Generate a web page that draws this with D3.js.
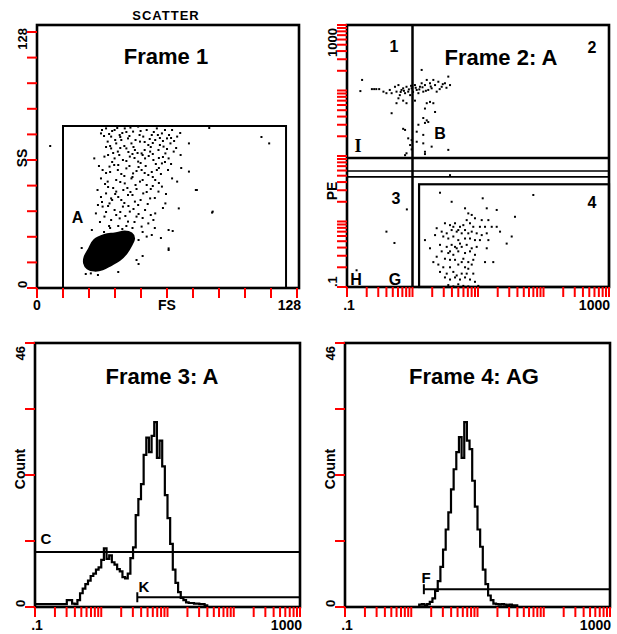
<!DOCTYPE html>
<html><head><meta charset="utf-8">
<script src="https://cdn.jsdelivr.net/npm/d3@7/dist/d3.min.js"></script>
<style>
body{margin:0;background:#fff}
svg text{font-family:"Liberation Sans",Arial,Helvetica,sans-serif;font-weight:bold;fill:#000}
</style>
</head><body>
<svg id="c" width="617" height="634"></svg>
<script>
// ---------------- DATA ----------------
const scatterTicks = [0, 12.8, 25.6, 38.4, 51.2, 64, 76.8, 89.6, 102.4, 115.2, 128];
const frame1Gate = [12.8, 122.6, 81];
const frame1Points = [
[31.5,77.3],[34.0,79.8],[36.5,75.7],[38.2,79.0],[40.7,76.5],[43.2,79.8],[44.8,74.8],[47.3,78.2],[49.8,80.7],[52.3,75.7],
[54.0,79.0],[56.5,76.5],[59.0,79.8],[61.5,77.3],[64.0,74.8],[66.5,79.0],[69.0,75.7],[74.8,72.3],[34.8,73.2],[39.0,72.3],
[41.5,74.0],[46.5,72.3],[50.7,73.2],[54.8,71.5],[58.2,74.0],[62.3,70.7],[65.7,72.3],[36.5,69.8],[39.8,68.2],[44.0,69.8],
[48.2,69.0],[51.5,67.3],[55.7,68.2],[59.8,69.0],[63.2,67.3],[67.3,68.2],[70.7,66.5],[28.2,64.8],[33.2,65.7],[38.2,64.8],
[42.3,64.0],[45.7,65.7],[49.8,63.2],[53.2,64.8],[57.3,64.0],[61.5,62.3],[64.8,64.8],[74.8,58.2],[32.3,59.0],[35.7,60.7],
[39.8,59.0],[44.0,59.8],[47.3,57.3],[51.5,59.0],[54.8,56.5],[59.0,59.0],[69.0,53.2],[31.5,54.8],[34.8,53.2],[39.0,54.0],
[43.2,52.3],[46.5,54.8],[50.7,53.2],[54.0,51.5],[58.2,54.0],[61.5,50.7],[66.5,54.8],[78.2,49.0],[29.8,49.0],[34.0,47.3],
[36.5,44.8],[39.0,48.2],[41.5,44.0],[44.8,46.5],[48.2,43.2],[52.3,47.3],[55.7,44.8],[59.8,48.2],[32.3,40.7],[35.7,42.3],
[38.2,39.0],[42.3,40.7],[45.7,38.2],[49.8,41.5],[53.2,39.0],[58.2,37.3],[63.2,42.3],[69.8,39.8],[86.5,38.2],[29.0,37.3],
[33.2,35.7],[36.5,34.0],[40.7,34.8],[44.8,33.2],[49.0,35.7],[54.8,32.3],[57.3,34.0],[64.8,29.0],[51.5,30.7],[54.0,25.7],
[56.5,26.5],[64.8,19.8],[49.0,14.0],[26.5,7.3],[110.5,75.5],[114.3,72.3],[86.2,37.7],[78.7,49],[64.8,19],[66.8,28.5],
[6.5,71],[84.8,80],[24,7],[30,6.5],[40,8],[50,12],[52,16],[47,30],[27,29],[22,20],[44,31],[36,30],
[33,76],[37,78.5],[42,77.5],[45.5,76],[48.5,74],[51,78.5],[55.5,74.5],[57.5,78],[60.5,75],[63,79],[65,76.5],[67.5,73.5],
[70.5,77.5],[36,71],[38.5,74],[43,71],[47.5,70.5],[49.5,67.5],[53,69],[56,70.5],[60.5,71.5],[64,69.5],[68.5,70],[35,66.5],
[37,63],[40.5,66.5],[44,63.5],[47,67],[51,62.5],[55,66],[58.5,62],[62,65.5],[66,62],[30.5,61],[34,57.5],[38,61.5],
[41.5,57],[45.5,61],[49,58.5],[53.5,61],[56.5,58],[61,57],[64.5,59],[71,60],[33.5,52],[37.5,50],[41,53],[44.5,50],
[48.5,51.5],[52,54],[56,49.5],[60,52.5],[63.5,47],[31.5,45.5],[35,41],[40,45.5],[43,42.5],[47,46.5],[51,44],[54.5,42],
[58,45],[62,40],[30,41.5],[34,38],[39,36.5],[43.5,36],[47.5,39.5],[52,35],[56,36.5],[31,33],[35.5,31],[42,29.5],
[46,27],[50,24],[38,25],[33,28],[58,30],[61,25],
[32,79],[35.5,77],[39.5,80],[41,75.5],[44,78],[46,80.2],[50.5,76.5],[53,73],[57,72.5],[59.5,76.5],[62,73.5],[66,75],
[34,70.5],[37.5,67.5],[41,70],[45,68],[48,65],[52,66.5],[57,67],[60,65],[63,63],[36,58],[40,61.5],[43,56],[47,55.5],
[50,60.5],[53,57.5],[57,55.5],[60,60],[35,50.5],[38.5,47],[42.5,49],[46,48],[49,49.5],[54,48],[57,51],[37,44],[41,38],
[45,41],[50,37],[32,43],[40,31],[44,28],[52,28],[48,33]
];
const clusterA = [
[23.2,12.3],[24.8,9.8],[28.2,8.7],[32.3,9.3],[36.5,11.5],[40.7,14.0],[44.0,17.3],[46.5,21.5],
[47.8,24.8],[46.5,27.3],[43.2,28.2],[38.2,27.3],[33.2,26.5],[28.2,24.0],[25.7,19.8],[23.5,15.7]
];
const frame2Points = [
[0.17,145],[0.16,98],[0.24,105],[0.26,105],[0.28,105],[0.31,105],[0.36,96],[0.40,91],[0.45,102],[0.48,91],
[0.54,114],[0.57,96],[0.61,121],[0.64,85],[0.68,102],[0.72,108],[0.77,91],[0.81,114],[0.86,96],[0.92,85],
[0.97,108],[1.09,121],[1.16,102],[1.23,91],[1.30,114],[1.38,129],[1.46,96],[1.55,121],[1.65,145],[1.74,102],
[1.85,129],[1.96,108],[2.08,145],[2.21,121],[2.34,96],[2.48,136],[2.79,114],[3.13,129],[3.52,163],[3.74,121],
[1.38,206],[0.61,76],[0.72,70],[0.48,45],[0.57,64],[0.81,64],[1.09,70],[1.65,64],[1.85,67],[2.08,64],
[1.55,53],[2.21,47],[1.65,35],[1.46,38],[1.55,32],[1.74,33],[1.23,30],[0.72,26],[0.77,25],[1.16,23.5],
[1.46,21],[0.86,18.6],[0.97,17.5],[1.16,16.5],[0.92,14.7],[1.46,15.6],[1.96,13.9],[0.81,11.0],[1.55,11.6],[3.52,12.4],
[0.97,12.6],[0.77,10.3],[1.55,10.7],[3.74,5.1],[0.82,1.53],[0.40,0.70],[0.53,0.47],[0.14,0.18],
[0.66,95],[0.74,99],[0.88,104],[1.02,95],[1.12,110],[1.27,104],[1.42,112],[0.95,118],[1.6,99],[1.9,115],[2.6,105],[2.9,125],[3.3,110],
[2.63,2.75],[3.96,2.00],[11.8,2.26],[69.9,2.54],[6.34,1.59],[13.6,1.59],[19.3,1.50],[7.11,1.33],[8.02,1.26],[8.99,1.12],
[11.4,1.05],[14.4,1.05],[6.72,1.05],[3.13,0.94],[3.74,0.88],[4.46,0.94],[5.31,0.83],[5.97,0.88],[7.55,0.94],[8.47,0.83],
[10.7,0.83],[12.8,0.83],[16.2,0.83],[19.3,0.83],[21.7,0.70],[36.7,1.18],[2.34,0.79],[2.79,0.70],[3.33,0.66],[3.96,0.74],
[4.73,0.70],[5.64,0.66],[6.34,0.74],[7.11,0.66],[8.02,0.70],[9.55,0.66],[11.4,0.62],[13.6,0.66],[2.21,0.62],[2.95,0.59],
[3.52,0.55],[4.20,0.59],[5.00,0.52],[6.34,0.55],[7.55,0.55],[8.99,0.52],[10.7,0.52],[14.4,0.52],[1.55,0.52],[32.7,0.59],
[27.4,0.46],[2.63,0.44],[3.33,0.41],[3.96,0.44],[4.73,0.39],[5.64,0.41],[6.72,0.44],[8.02,0.39],[9.55,0.41],[13.6,0.39],
[1.85,0.39],[2.79,0.35],[3.52,0.33],[4.20,0.31],[5.00,0.35],[6.34,0.33],[7.55,0.35],[8.99,0.31],[2.34,0.29],[3.13,0.27],
[3.74,0.26],[4.46,0.26],[5.97,0.27],[7.11,0.24],[8.47,0.26],[12.8,0.24],[17.1,0.24],[2.08,0.24],[2.48,0.22],[2.95,0.20],
[3.74,0.20],[5.00,0.22],[6.34,0.20],[7.11,0.19],[8.02,0.22],[2.63,0.17],[3.33,0.16],[4.20,0.17],[4.73,0.15],[5.64,0.16],
[6.72,0.16],[8.47,0.16],[3.13,0.14],[3.74,0.13],[4.46,0.14],[5.31,0.13],[6.34,0.14],[7.55,0.13],[8.99,0.12],[3.52,0.107],
[4.20,0.102],[5.00,0.11],[5.97,0.104],[7.11,0.102],[10.1,0.104],[4.20,0.83],[5.00,0.74],[5.31,0.46],[4.46,0.41],[5.64,0.24],[3.74,0.35]
];
const quadVertical = [1.0];
const quadHorizontal = [9.3, 5.9, 4.8];
const region4 = [1.26, 3.7];
const countTicks = [0, 11.5, 23, 34.5, 46];
const histA = [
0.5,0.5,0.5,0.5,0.5,0.5,0.5,0.5,0.5,0.5,
0.5,0.5,1.2,1.2,0.6,0.5,1.2,2.4,3.2,4.0,
4.6,5.4,5.8,6.5,6.9,8.2,10.2,8.4,9.0,7.8,
7.4,6.6,6.2,5.2,5.0,5.8,8.5,10.4,16.0,18.8,
21.4,26.5,29.5,27.0,29.8,32.2,26.0,29.0,24.5,19.5,
15.5,11.0,6.5,4.2,2.6,1.6,1.2,0.8,0.7,0.7,
0.6,0.6,0.5,0.5,0.3,0,0,0,0,0,
0,0,0,0,0,0,0,0,0,0,
0,0,0,0,0,0,0,0,0,0,
0,0,0,0,0,0,0,0,0,0
];
const histAG = [
0,0,0,0,0,0,0,0,0,0,
0,0,0,0,0,0,0,0,0,0,
0,0,0,0,0,0,0,0,0.4,0.5,
0.3,0.5,0.9,1.5,2.8,4.5,7.0,10.0,13.5,16.5,
20.5,24.0,27.0,29.6,26.0,32.2,29.0,27.5,22.0,17.5,
13.5,10.5,6.5,4.0,2.0,1.2,0.6,0.5,0.4,0.5,
0.4,0.3,0.4,0.3,0.3,0,0,0,0,0,
0,0,0,0,0,0,0,0,0,0,
0,0,0,0,0,0,0,0,0,0,
0,0,0,0,0,0,0,0,0,0
];
const markerC = [0.1, 1000, 9.6];
const markerK = [3.5, 1000, 1.7];
const markerF = [1.55, 1000, 3.1];
const titles = ["Frame 1", "Frame 2: A", "Frame 3: A", "Frame 4: AG"];

// ---------------- DRAWING ----------------
const svg = d3.select("#c");
function frameRect(x0, y0, x1, y1) {
  svg.append("rect").attr("x", x0).attr("y", y0).attr("width", x1 - x0).attr("height", y1 - y0)
    .attr("fill", "none").attr("stroke", "#000").attr("stroke-width", 2.6);
}
function label(t, x, y, size, anchor, opts) {
  const e = svg.append("text").attr("x", x).attr("y", y).attr("font-size", size).attr("text-anchor", anchor || "middle").text(t);
  if (opts && opts.rotate) e.attr("transform", `rotate(-90,${x},${y})`);
  if (opts && opts.family) e.style("font-family", opts.family);
  if (opts && opts.spacing) e.attr("letter-spacing", opts.spacing);
  return e;
}
function yLabels(labels, frameLeft, top, bottom, mid) {
  const bx = frameLeft - 10;
  label(labels[0], bx, bottom, 13, "start", { rotate: true });
  label(labels[1], bx, mid, 14, "middle", { rotate: true });
  label(labels[2], bx, top + 3, 13, "end", { rotate: true });
}

const sx1 = d3.scaleLinear().domain([0, 128]).range([37, 297]);
const sy1 = d3.scaleLinear().domain([0, 128]).range([288, 32]);
svg.append("rect")
  .attr("x", sx1(frame1Gate[0])).attr("y", sy1(frame1Gate[2]))
  .attr("width", sx1(frame1Gate[1]) - sx1(frame1Gate[0])).attr("height", sy1(0) - sy1(frame1Gate[2]))
  .attr("fill", "none").attr("stroke", "#000").attr("stroke-width", 2);
svg.append("g").selectAll("rect").data(frame1Points).join("rect")
  .attr("x", d => sx1(d[0]) - 1).attr("y", d => sy1(d[1]) - 1).attr("width", 2).attr("height", 2).attr("fill", "#000");
svg.append("path").datum(clusterA)
  .attr("d", d3.line().x(d => sx1(d[0])).y(d => sy1(d[1])).curve(d3.curveCardinalClosed))
  .attr("fill", "#000").attr("stroke", "#000").attr("stroke-width", 2);
frameRect(37, 25, 299, 288);
label("SCATTER", 166, 20, 13, "middle", { spacing: 1 });
label(titles[0], 166, 64, 22);
label("A", 77.5, 223, 16);
label("0", sx1(0), 310, 14);
label("FS", sx1(64), 310, 14);
label("128", 301, 310, 14, "end");
yLabels(["0", "SS", "128"], 37, 25, 288, 158);

const sx2 = d3.scaleLog().domain([0.1, 1000]).range([347, 609]);
const sy2 = d3.scaleLog().domain([0.1, 1000]).range([287, 25]);
svg.append("g").selectAll("rect").data(frame2Points).join("rect")
  .attr("x", d => sx2(d[0]) - 1).attr("y", d => sy2(d[1]) - 1).attr("width", 2).attr("height", 2).attr("fill", "#000");
quadVertical.forEach(v => svg.append("line").attr("x1", sx2(v)).attr("x2", sx2(v)).attr("y1", sy2(1000)).attr("y2", sy2(0.1))
  .attr("stroke", "#000").attr("stroke-width", 2.5));
quadHorizontal.forEach((v, i) => svg.append("line").attr("x1", sx2(0.1)).attr("x2", sx2(1000)).attr("y1", sy2(v)).attr("y2", sy2(v))
  .attr("stroke", "#000").attr("stroke-width", i === 0 ? 2.5 : 1.6));
svg.append("rect").attr("x", sx2(region4[0])).attr("y", sy2(region4[1]))
  .attr("width", sx2(1000) - sx2(region4[0])).attr("height", sy2(0.1) - sy2(region4[1]))
  .attr("fill", "none").attr("stroke", "#000").attr("stroke-width", 2.2);
frameRect(347, 25, 609, 287);
label(titles[1], 501, 65, 22);
label("1", 394, 52, 16);
label("2", 592, 53, 16);
label("B", 440, 139, 16);
label("I", 358, 152, 18, "middle", { family: "'Liberation Serif','DejaVu Serif',serif" });
label("3", 396, 204, 16);
label("4", 592, 208, 16);
label("H", 356, 285, 16);
label("G", 395, 285, 16);
label(".1", sx2(0.1) + 2, 310, 14);
label("1000", 610, 310, 14, "end");
yLabels([".1", "PE", "1000"], 347, 25, 287, 191);

const N = 100;
function histogram(counts, xs, ys) {
  const pts = counts.map((c, i) => [0.1 * Math.pow(10, 4 * i / N), c]);
  pts.push([1000, counts[N - 1]]);
  svg.append("path").datum(pts)
    .attr("d", d3.line().x(d => xs(d[0])).y(d => ys(d[1])).curve(d3.curveStepAfter))
    .attr("fill", "none").attr("stroke", "#000").attr("stroke-width", 2.2);
}
function markerLine(m, xs, ys, tick, w) {
  svg.append("line").attr("x1", xs(m[0])).attr("x2", xs(m[1])).attr("y1", ys(m[2])).attr("y2", ys(m[2]))
    .attr("stroke", "#000").attr("stroke-width", w);
  if (tick) svg.append("line").attr("x1", xs(m[0])).attr("x2", xs(m[0])).attr("y1", ys(m[2]) - 5).attr("y2", ys(m[2]) + 5)
    .attr("stroke", "#000").attr("stroke-width", 2);
}
const sx3 = d3.scaleLog().domain([0.1, 1000]).range([35, 300]);
const sy3 = d3.scaleLinear().domain([0, 46]).range([607, 343]);
histogram(histA, sx3, sy3);
markerLine(markerC, sx3, sy3, false, 2);
markerLine(markerK, sx3, sy3, true, 1.8);
frameRect(35, 343, 300, 607);
label(titles[2], 162, 384, 22);
label("C", 46, 544, 15);
label("K", 144, 592, 15);
label(".1", sx3(0.1) + 2, 630, 14);
label("1000", 302, 630, 14, "end");
yLabels(["0", "Count", "46"], 35, 343, 607, 469);

const sx4 = d3.scaleLog().domain([0.1, 1000]).range([345, 610]);
const sy4 = d3.scaleLinear().domain([0, 46]).range([607, 343]);
histogram(histAG, sx4, sy4);
markerLine(markerF, sx4, sy4, true, 2);
frameRect(345, 343, 610, 607);
label(titles[3], 474, 384, 22);
label("F", 426, 583, 15);
label(".1", sx4(0.1) + 2, 630, 14);
label("1000", 611, 630, 14, "end");
yLabels(["0", "Count", "46"], 345, 343, 607, 469);

// ===== Tick marks through each scale =====
const bottomAxes = [[sx1, 288, scatterTicks], [sx2, 287, sx2.ticks()], [sx3, 607, sx3.ticks()], [sx4, 607, sx4.ticks()]];
const leftAxes = [[sy1, 37, scatterTicks], [sy2, 347, sy2.ticks()], [sy3, 35, countTicks], [sy4, 345, countTicks]];
bottomAxes.forEach(a => {
  const s = a[0], y = a[1];
  svg.append("g").selectAll("line").data(a[2]).join("line")
    .attr("stroke", "red").attr("stroke-width", 2)
    .attr("x1", d => s(d)).attr("x2", d => s(d)).attr("y1", y).attr("y2", y + 10);
});
leftAxes.forEach(a => {
  const s = a[0], x = a[1];
  svg.append("g").selectAll("line").data(a[2]).join("line")
    .attr("stroke", "red").attr("stroke-width", 2)
    .attr("x1", x).attr("x2", x - 10).attr("y1", d => s(d)).attr("y2", d => s(d));
});
</script>
</body></html>
